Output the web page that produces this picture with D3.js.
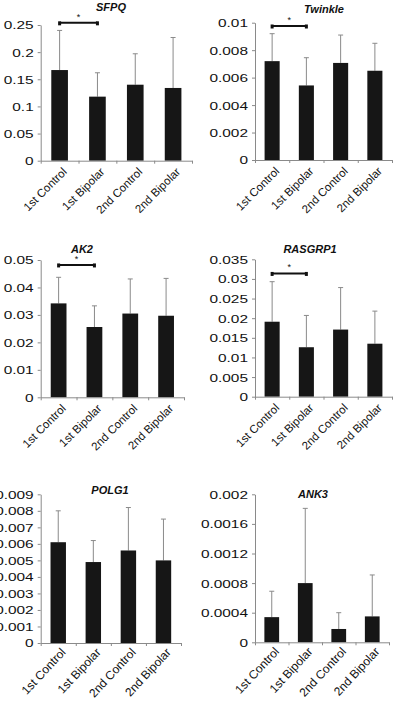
<!DOCTYPE html>
<html>
<head>
<meta charset="utf-8">
<script src="https://cdn.jsdelivr.net/npm/d3@7"></script>
<style>
  html, body { margin: 0; padding: 0; background: #fff; }
  svg { display: block; font-family: "Liberation Sans", Arial, sans-serif; }
</style>
</head>
<body>
<svg id="chart" width="400" height="704"></svg>
<script>
// ---------------- data ----------------
const categories = ["1st Control", "1st Bipolar", "2nd Control", "2nd Bipolar"];
const genes = ["SFPQ", "Twinkle", "AK2", "RASGRP1", "POLG1", "ANK3"];

const sfpqMean   = [0.167, 0.118, 0.140, 0.134];
const sfpqUpper  = [0.240, 0.162, 0.197, 0.227];
const twinkleMean  = [0.0072, 0.00543, 0.00707, 0.0065];
const twinkleUpper = [0.0092, 0.00745, 0.0091, 0.0085];
const ak2Mean  = [0.0342, 0.0256, 0.0305, 0.0297];
const ak2Upper = [0.0437, 0.0333, 0.0431, 0.0433];
const rasgrp1Mean  = [0.0191, 0.0126, 0.0171, 0.0135];
const rasgrp1Upper = [0.0293, 0.0207, 0.0278, 0.0218];
const polg1Mean  = [0.0061, 0.0049, 0.0056, 0.0050];
const polg1Upper = [0.0080, 0.0062, 0.0082, 0.0075];
const ank3Mean  = [0.00034, 0.00080, 0.00018, 0.00035];
const ank3Upper = [0.00069, 0.00181, 0.00040, 0.00091];

const sfpqTicks    = ["0", "0.05", "0.1", "0.15", "0.2", "0.25"];
const twinkleTicks = ["0", "0.002", "0.004", "0.006", "0.008", "0.01"];
const ak2Ticks     = ["0", "0.01", "0.02", "0.03", "0.04", "0.05"];
const rasgrp1Ticks = ["0", "0.005", "0.01", "0.015", "0.02", "0.025", "0.03", "0.035"];
const polg1Ticks   = ["0", "0.001", "0.002", "0.003", "0.004", "0.005", "0.006", "0.007", "0.008", "0.009"];
const ank3Ticks    = ["0", "0.0004", "0.0008", "0.0012", "0.0016", "0.002"];

// significance brackets: [from index, to index, bracket level in data units]
const sfpqSig    = [[0, 1, 0.254]];
const twinkleSig = [[0, 1, 0.00976]];
const ak2Sig     = [[0, 1, 0.0482]];
const rasgrp1Sig = [[0, 1, 0.0314]];
const polg1Sig   = [];
const ank3Sig    = [];

// ---------------- layout (positions only) ----------------
const panels = [
  { gene: genes[0], mean: sfpqMean,    upper: sfpqUpper,    ticks: sfpqTicks,    sig: sfpqSig,    x0: 40.7, x1: 192, yTop: 25,    y0: 160.7, tx: 111, ty: 11,    lf: 11.5, la: -45, ly: 9 },
  { gene: genes[1], mean: twinkleMean, upper: twinkleUpper, ticks: twinkleTicks, sig: twinkleSig, x0: 255,  x1: 392, yTop: 22.7,  y0: 160,   tx: 324, ty: 12.5,  lf: 11.5, la: -45, ly: 9 },
  { gene: genes[2], mean: ak2Mean,     upper: ak2Upper,     ticks: ak2Ticks,     sig: ak2Sig,     x0: 40.7, x1: 184, yTop: 260,   y0: 397.3, tx: 82,  ty: 252.5, lf: 11.5, la: -45, ly: 9 },
  { gene: genes[3], mean: rasgrp1Mean, upper: rasgrp1Upper, ticks: rasgrp1Ticks, sig: rasgrp1Sig, x0: 255,  x1: 392, yTop: 259.3, y0: 396.7, tx: 310, ty: 253,   lf: 11.5, la: -45, ly: 9 },
  { gene: genes[4], mean: polg1Mean,   upper: polg1Upper,   ticks: polg1Ticks,   sig: polg1Sig,   x0: 40.7, x1: 181, yTop: 494.3, y0: 643,   tx: 110, ty: 493.5, lf: 12,   la: -47, ly: 7 },
  { gene: genes[5], mean: ank3Mean,    upper: ank3Upper,    ticks: ank3Ticks,    sig: ank3Sig,    x0: 255,  x1: 389, yTop: 494.3, y0: 642.3, tx: 313, ty: 498,   lf: 12,   la: -47, ly: 7 }
];

const axisColor = "#8a8a8a";
const barColor = "#161616";
const errColor = "#8a8a8a";

const svg = d3.select("#chart");

panels.forEach(p => {
  const g = svg.append("g");
  const vals = p.ticks.map(Number);
  const ymax = vals[vals.length - 1];

  const y = d3.scaleLinear().domain([0, ymax]).range([p.y0, p.yTop]);
  const x = d3.scaleBand().domain(categories).range([p.x0, p.x1])
    .paddingInner(0.56).paddingOuter(0.28);
  const xb = d3.scaleLinear().domain([0, categories.length]).range([p.x0, p.x1]);

  // error bars (upper only), drawn behind bars
  p.mean.forEach((m, i) => {
    const cx = x(categories[i]) + x.bandwidth() / 2;
    g.append("line")
      .attr("x1", cx).attr("x2", cx)
      .attr("y1", y(m)).attr("y2", y(p.upper[i]))
      .attr("stroke", errColor).attr("stroke-width", 1);
    g.append("line")
      .attr("x1", cx - 2.5).attr("x2", cx + 2.5)
      .attr("y1", y(p.upper[i])).attr("y2", y(p.upper[i]))
      .attr("stroke", errColor).attr("stroke-width", 1);
  });

  // bars
  g.selectAll("rect.bar").data(p.mean).enter().append("rect")
    .attr("class", "bar")
    .attr("x", (d, i) => x(categories[i]))
    .attr("width", x.bandwidth())
    .attr("y", d => y(d))
    .attr("height", d => y(0) - y(d))
    .attr("fill", barColor);

  // y axis
  const yAxis = d3.axisLeft(y).tickValues(vals)
    .tickFormat((d, i) => p.ticks[i]).tickSize(3).tickSizeOuter(0);
  const ya = g.append("g").attr("transform", `translate(${p.x0},0)`).call(yAxis);
  ya.select(".domain").attr("stroke", axisColor);
  ya.selectAll(".tick line").attr("stroke", axisColor);
  ya.selectAll(".tick text")
    .attr("x", 0).attr("dy", "0.36em")
    .attr("transform", "translate(-7,0) scale(1.4,1)")
    .attr("text-anchor", "end")
    .attr("fill", "#111")
    .style("font-size", "11px")
    .style("font-family", "'Liberation Sans', Arial, sans-serif");

  // x axis line + boundary ticks
  const xAxis = d3.axisBottom(xb).tickValues(d3.range(categories.length + 1))
    .tickFormat("").tickSize(3).tickSizeOuter(0);
  const xa = g.append("g").attr("transform", `translate(0,${p.y0})`).call(xAxis);
  xa.select(".domain").attr("stroke", axisColor);
  xa.selectAll(".tick line").attr("stroke", axisColor);

  // x labels (rotated)
  const xl = d3.axisBottom(x).tickSize(0).tickSizeOuter(0);
  const xla = g.append("g").attr("transform", `translate(0,${p.y0})`).call(xl);
  xla.select(".domain").remove();
  xla.selectAll(".tick text")
    .attr("x", 0).attr("y", 0).attr("dy", "0.35em")
    .attr("text-anchor", "end")
    .attr("transform", `translate(5,${p.ly}) rotate(${p.la})`)
    .attr("fill", "#111")
    .style("font-size", p.lf + "px")
    .style("font-family", "'Liberation Sans', Arial, sans-serif");

  // title
  g.append("text")
    .attr("x", p.tx).attr("y", p.ty)
    .attr("text-anchor", "middle")
    .style("font-size", "11px")
    .style("font-weight", "bold")
    .style("font-style", "italic")
    .attr("fill", "#111")
    .text(p.gene);

  // significance brackets
  p.sig.forEach(s => {
    const xa1 = x(categories[s[0]]) + x.bandwidth() / 2;
    const xa2 = x(categories[s[1]]) + x.bandwidth() / 2;
    const yy = y(s[2]);
    g.append("line")
      .attr("x1", xa1).attr("x2", xa2).attr("y1", yy).attr("y2", yy)
      .attr("stroke", "#111").attr("stroke-width", 2);
    [xa1, xa2].forEach(xx => {
      g.append("rect").attr("x", xx - 1.5).attr("y", yy - 1.5)
        .attr("width", 3).attr("height", 4).attr("fill", "#111");
    });
    g.append("text")
      .attr("x", (xa1 + xa2) / 2).attr("y", yy - 3)
      .attr("text-anchor", "middle")
      .style("font-size", "9px")
      .attr("fill", "#111")
      .text("*");
  });
});
</script>
</body>
</html>
